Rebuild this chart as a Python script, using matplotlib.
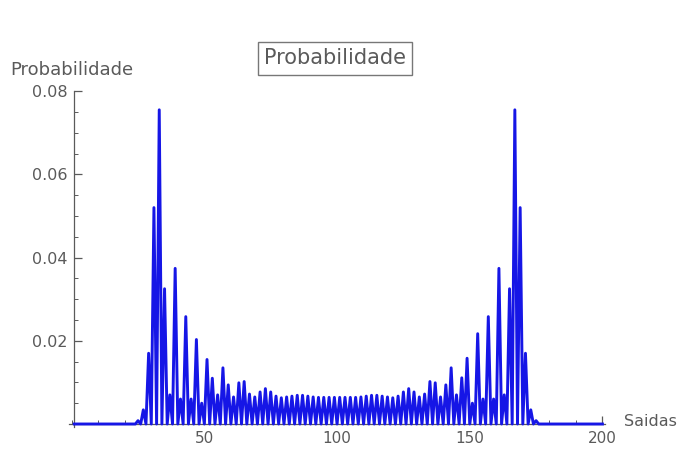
import numpy as np
import matplotlib.pyplot as plt
from matplotlib.ticker import MultipleLocator

# Probabilidade nas posicoes impares, zero nas pares
pos_esq = list(range(25, 100, 2))
prob_esq = [0.0008, 0.0034, 0.017, 0.052, 0.0755, 0.0325, 0.007, 0.0374,
            0.006, 0.0258, 0.006, 0.0203, 0.005, 0.0155, 0.011, 0.007,
            0.0135, 0.0094, 0.0065, 0.0099, 0.0102, 0.0072, 0.0065, 0.0077,
            0.0085, 0.0077, 0.0067, 0.0063, 0.0065, 0.0067, 0.0069, 0.0069,
            0.0067, 0.0065, 0.0064, 0.0064, 0.0064, 0.0064]
pos_dir = list(range(101, 176, 2))
prob_dir = [0.0064, 0.0064, 0.0064, 0.0064, 0.0065, 0.0067, 0.0069, 0.0069,
            0.0067, 0.0065, 0.0063, 0.0067, 0.0077, 0.0085, 0.0077, 0.0065,
            0.0072, 0.0102, 0.0099, 0.0065, 0.0094, 0.0135, 0.007, 0.0111,
            0.0158, 0.005, 0.0217, 0.006, 0.0258, 0.006, 0.0374, 0.007,
            0.0325, 0.0755, 0.052, 0.017, 0.0034, 0.0008]

saidas = np.arange(1, 201)
prob = np.zeros(200)
for p, v in zip(pos_esq + pos_dir, prob_esq + prob_dir):
    prob[p - 1] = v

cinza = '#5a5a5a'
fig = plt.figure(figsize=(6.82, 4.49), dpi=100)
ax = fig.add_axes([0.1012, 0.0501, 0.786, 0.747])
ax.plot(saidas, prob, color='#1616e6', lw=2.1, clip_on=False, zorder=3,
        solid_joinstyle='round')

ax.set_xlim(-1, 201)
ax.set_ylim(-0.0006, 0.08)
for s in ['top', 'right']:
    ax.spines[s].set_visible(False)
ax.spines['left'].set_position(('data', 1))
ax.spines['bottom'].set_position(('data', 0))
ax.spines['left'].set_bounds(-0.0006, 0.08)
for s in ['left', 'bottom']:
    ax.spines[s].set_color(cinza)
    ax.spines[s].set_linewidth(0.9)

ax.xaxis.set_minor_locator(MultipleLocator(10))
ax.yaxis.set_minor_locator(MultipleLocator(0.005))
ax.set_xticks([50, 100, 150, 200])
ax.set_yticks([0.02, 0.04, 0.06, 0.08])
ax.set_xticklabels(['50', '100', '150', '200'])
ax.set_yticklabels(['0.02', '0.04', '0.06', '0.08'])
ax.tick_params(which='major', direction='in', length=6, width=0.9,
               color=cinza, labelcolor=cinza, labelsize=11.5, pad=5)
ax.tick_params(which='minor', direction='in', length=3, width=0.7, color=cinza)
ax.tick_params(axis='x', which='major', labelsize=11, pad=5)
ax.patch.set_visible(False)

fig.text(0.015, 0.845, 'Probabilidade', color=cinza, fontsize=13,
         ha='left', va='center')
fig.text(0.915, 0.062, 'Saidas', color=cinza, fontsize=11.5,
         ha='left', va='center')
fig.text(0.491, 0.87, 'Probabilidade', color=cinza, fontsize=15,
         ha='center', va='center',
         bbox=dict(boxstyle='square,pad=0.3', fc='white', ec='#777777', lw=1))

fig.savefig('out.png', dpi=100)
